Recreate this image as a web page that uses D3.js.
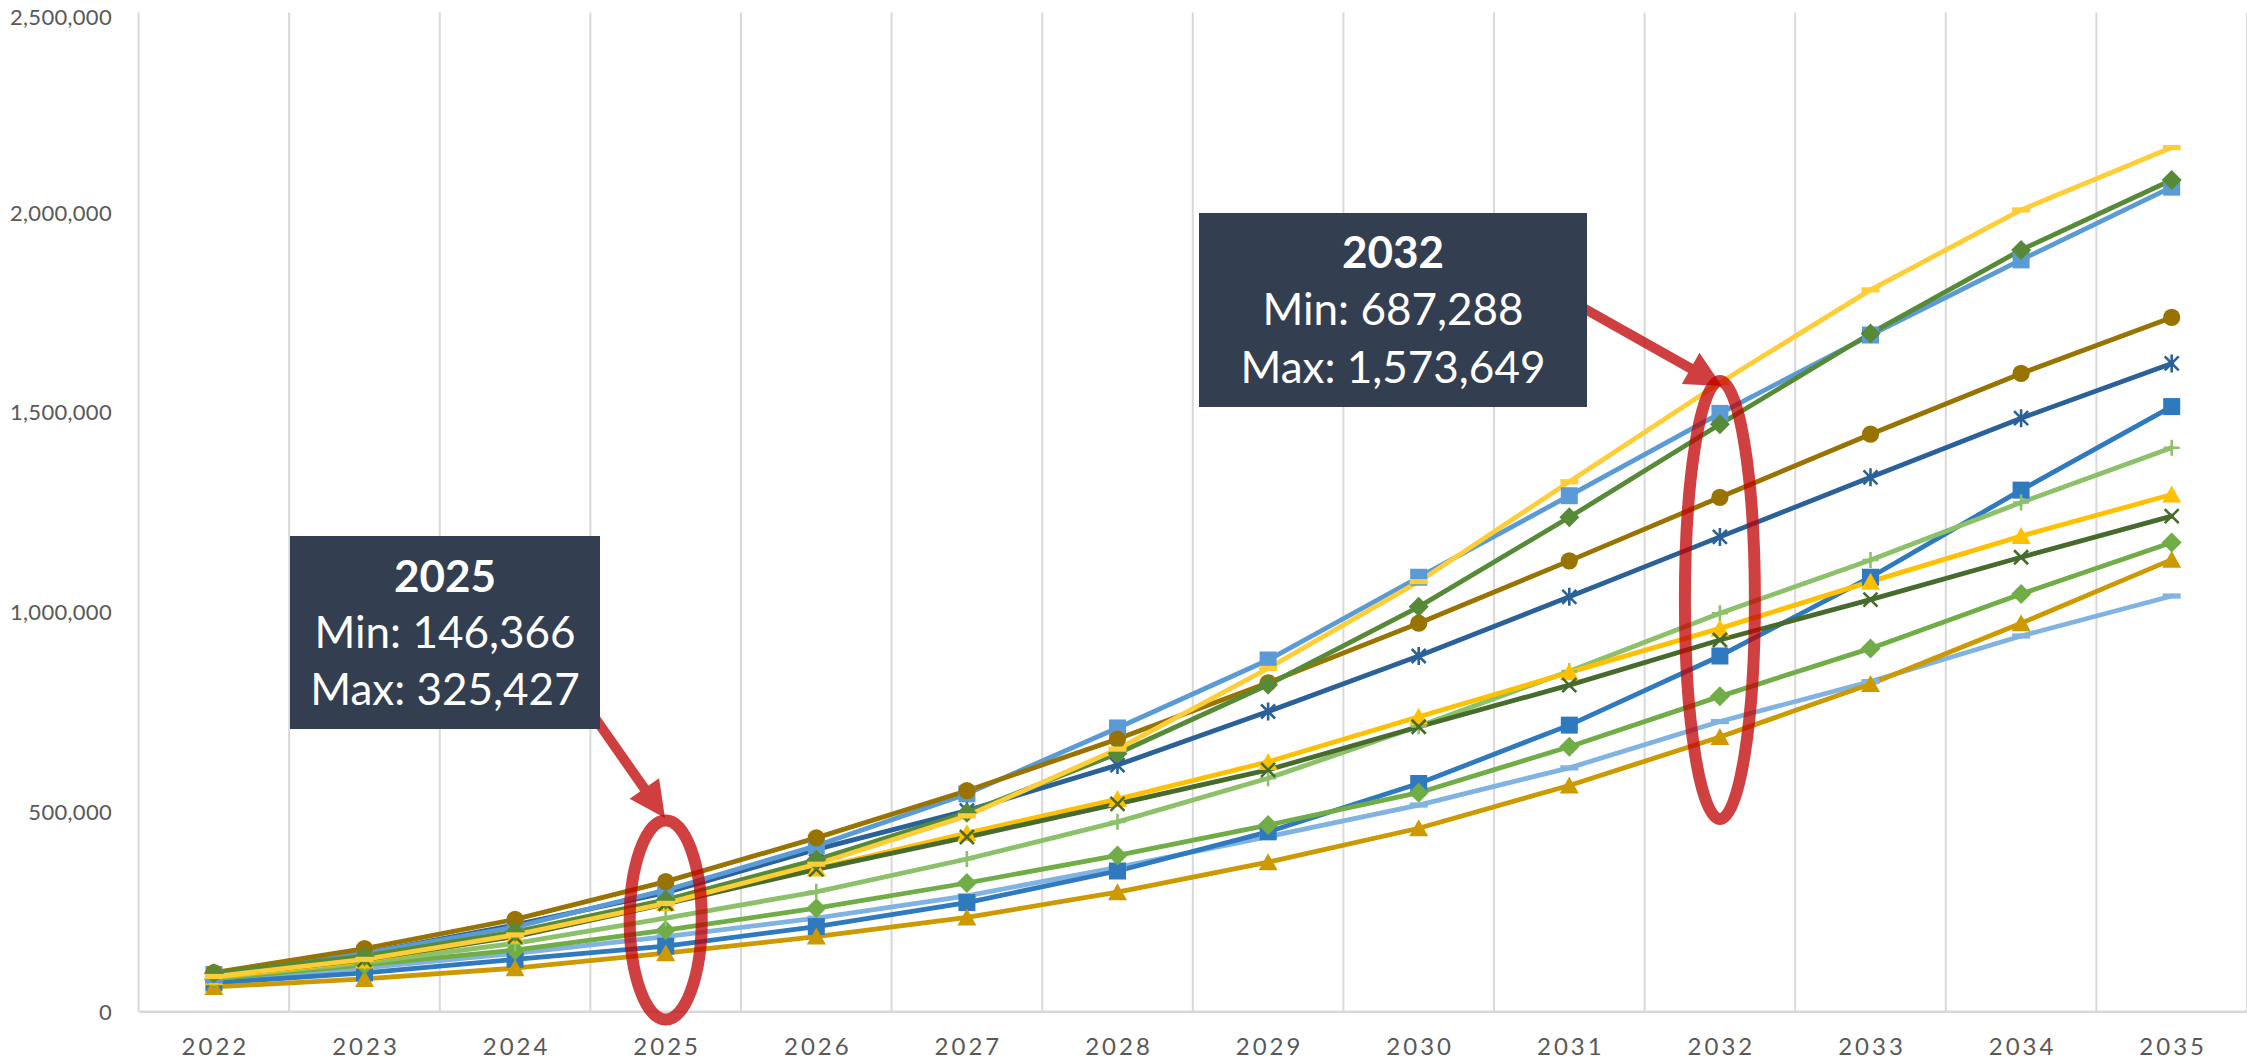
<!DOCTYPE html>
<html>
<head>
<meta charset="utf-8">
<script src="https://cdn.jsdelivr.net/npm/d3@7"></script>
<style>
  html, body { margin: 0; padding: 0; background: #ffffff; }
  svg { display: block; }
  text { font-family: Lato, "Open Sans", "Liberation Sans", sans-serif; }
</style>
</head>
<body>
<svg id="chart" width="2247" height="1063"></svg>
<script>
// ---------------- DATA ----------------
const years = ["2022","2023","2024","2025","2026","2027","2028","2029","2030","2031","2032","2033","2034","2035"];
const yTickValues = [0, 500000, 1000000, 1500000, 2000000, 2500000];

const lightBlueDash   = [78000, 110000, 146000, 188000, 234000, 290000, 361000, 438000, 517000, 610000, 726000, 826000, 940000, 1040000];
const blueSquare      = [72000, 97000, 131000, 164000, 213000, 273000, 352000, 450000, 571000, 717000, 890000, 1087000, 1305000, 1514000];
const goldTriangle    = [62000, 82000, 109000, 146366, 188000, 236000, 299000, 374000, 459000, 566000, 687288, 820000, 972000, 1131000];
const greenDiamond    = [82000, 117000, 154000, 204000, 259000, 322000, 391000, 467000, 548000, 663000, 789000, 909000, 1045000, 1174000];
const lightGreenPlus  = [85000, 123000, 171000, 234000, 300000, 382000, 475000, 584000, 714000, 852000, 997000, 1130000, 1274000, 1411000];
const yellowTriangle  = [86000, 128000, 190000, 272000, 358000, 447000, 532000, 625000, 738000, 849000, 959000, 1076000, 1190000, 1294000];
const darkGreenX      = [90000, 130000, 188000, 270000, 356000, 437000, 520000, 605000, 713000, 817000, 930000, 1031000, 1137000, 1240000];
const darkBlueStar    = [95000, 146000, 217000, 298000, 406000, 503000, 617000, 751000, 890000, 1038000, 1188000, 1337000, 1485000, 1622000];
const lightBlueSquare = [93000, 146000, 212000, 304000, 415000, 545000, 710000, 880000, 1087000, 1291000, 1497000, 1693000, 1881000, 2063000];
const brownCircle     = [98000, 158000, 231000, 325427, 435000, 553000, 682000, 823000, 972000, 1128000, 1287000, 1445000, 1597000, 1737000];
const darkGreenDiam   = [96000, 139000, 200000, 280000, 380000, 498000, 646000, 818000, 1013000, 1237000, 1470000, 1697000, 1906000, 2081000];
const yellowDash      = [88000, 131000, 192000, 271000, 369000, 490000, 657000, 859000, 1076000, 1326000, 1573649, 1806000, 2006000, 2162000];

const annYears = ["2025", "2032"];
const annMin   = [146366, 687288];
const annMax   = [325427, 1573649];

// ---------------- STYLE ----------------
const seriesList = [
  { values: lightBlueDash,   color: "#80B3E1", marker: "dash" },
  { values: blueSquare,      color: "#2F79BF", marker: "square" },
  { values: goldTriangle,    color: "#CC9A00", marker: "triangle" },
  { values: greenDiamond,    color: "#70AD47", marker: "diamond" },
  { values: lightGreenPlus,  color: "#8CC16A", marker: "plus" },
  { values: yellowTriangle,  color: "#FFC000", marker: "triangle" },
  { values: darkGreenX,      color: "#466B2D", marker: "times" },
  { values: darkBlueStar,    color: "#2A6198", marker: "asterisk" },
  { values: lightBlueSquare, color: "#5B9BD5", marker: "square" },
  { values: brownCircle,     color: "#997300", marker: "circle" },
  { values: darkGreenDiam,   color: "#578A37", marker: "diamond" },
  { values: yellowDash,      color: "#FFCD35", marker: "dash" }
];

const plot = { left: 138.6, right: 2247, top: 12.5, bottom: 1011.7 };
const gridColor = "#D9D9D9";
const labelColor = "#595959";
const annFill = "#333F50";
const redColor = "#C00000";

const svg = d3.select("#chart");

const x = d3.scaleBand().domain(years).range([plot.left, plot.right]).paddingInner(0).paddingOuter(0);
const bw = x.bandwidth();
const cx = d => x(d) + bw / 2;
const y = d3.scaleLinear().domain([0, 2500000]).range([plot.bottom, plot.top]);

// Vertical gridlines (category boundaries)
const bounds = years.map(d => x(d)).concat([x(years[years.length - 1]) + bw]);
svg.append("g").selectAll("line").data(bounds).join("line")
  .attr("x1", d => d).attr("x2", d => d)
  .attr("y1", plot.top).attr("y2", plot.bottom)
  .attr("stroke", gridColor).attr("stroke-width", 2);

// X axis baseline
svg.append("line")
  .attr("x1", plot.left).attr("x2", plot.right)
  .attr("y1", plot.bottom).attr("y2", plot.bottom)
  .attr("stroke", gridColor).attr("stroke-width", 2.5);

// Y axis labels
const yAxis = svg.append("g").attr("transform", "translate(112,0)")
  .call(d3.axisLeft(y).tickValues(yTickValues).tickFormat(d3.format(",")).tickSize(0).tickPadding(0));
yAxis.select(".domain").remove();
yAxis.selectAll("text")
  .attr("fill", labelColor).style("font-size", "22px").style("letter-spacing", "0.3px")
  .style("font-family", "Lato, 'Open Sans', sans-serif").attr("dy", "0.35em");
yAxis.selectAll(".tick").filter(d => d === 2500000).select("text").attr("dy", "0.55em");

// X axis labels
const xAxis = svg.append("g").attr("transform", `translate(0,${plot.bottom})`)
  .call(d3.axisBottom(x).tickSize(0).tickPadding(0));
xAxis.select(".domain").remove();
xAxis.selectAll("text")
  .attr("fill", labelColor).style("font-size", "24px").style("letter-spacing", "3px")
  .style("font-family", "Lato, 'Open Sans', sans-serif")
  .attr("y", 35).attr("dy", "0.35em").attr("dx", "1.5px");

// Lines
const lineGen = d3.line().x((d, i) => cx(years[i])).y(d => y(d));
const linesG = svg.append("g");
seriesList.forEach(s => {
  linesG.append("path").datum(s.values)
    .attr("d", lineGen)
    .attr("fill", "none").attr("stroke", s.color)
    .attr("stroke-width", 4.8).attr("stroke-linejoin", "round").attr("stroke-linecap", "round");
});

// Markers
function markerPath(type) {
  switch (type) {
    case "circle": return d3.symbol(d3.symbolCircle, Math.PI * 8.6 * 8.6)();
    case "square": return "M-8.5,-8.5H8.5V8.5H-8.5Z";
    case "diamond": return "M0,-10L10,0L0,10L-10,0Z";
    case "triangle": return "M0,-9L9.5,8L-9.5,8Z";
    case "dash": return "M-9,-2.6H9V2.6H-9Z";
    case "times": return "M-7,-7L7,7M-7,7L7,-7";
    case "asterisk": return "M-7,-7L7,7M-7,7L7,-7M0,-9V9";
    case "plus": return "M-8,0H8M0,-8V8";
  }
}
const strokeMarkers = new Set(["times", "asterisk", "plus"]);
const markersG = svg.append("g");
seriesList.forEach(s => {
  const g = markersG.append("g");
  const isStroke = strokeMarkers.has(s.marker);
  g.selectAll("path").data(s.values).join("path")
    .attr("transform", (d, i) => `translate(${cx(years[i])},${y(d)})`)
    .attr("d", markerPath(s.marker))
    .attr("fill", isStroke ? "none" : s.color)
    .attr("stroke", isStroke ? s.color : "none")
    .attr("stroke-width", isStroke ? 2.6 : 0);
});

// Annotations: arrows (drawn under boxes), ellipses, boxes
const fmt = d3.format(",");
const annLayout = [
  { box: [290, 536, 310, 193], baselines: [591.7, 648, 705], ell: [920, 36, 99.5],
    arrow: [[588, 708], [665, 818]] },
  { box: [1199, 213, 388, 194], baselines: [268, 325, 382.7], ell: [600, 35, 219],
    arrow: [[1578, 305], [1722, 386]] }
];

annYears.forEach((yr, k) => {
  const L = annLayout[k];
  const [p0, p1] = L.arrow;
  const dx = p1[0] - p0[0], dy = p1[1] - p0[1];
  const len = Math.hypot(dx, dy);
  const ux = dx / len, uy = dy / len;
  const headLen = 36, headHalf = 18;
  const bx = p1[0] - ux * headLen, by = p1[1] - uy * headLen;
  const ag = svg.append("g").attr("opacity", 0.75);
  ag.append("line").attr("x1", p0[0]).attr("y1", p0[1]).attr("x2", bx + ux * 2).attr("y2", by + uy * 2)
    .attr("stroke", redColor).attr("stroke-width", 10);
  ag.append("path")
    .attr("d", `M${p1[0]},${p1[1]}L${bx - uy * headHalf},${by + ux * headHalf}L${bx + uy * headHalf},${by - ux * headHalf}Z`)
    .attr("fill", redColor);
  svg.append("ellipse")
    .attr("cx", cx(yr)).attr("cy", L.ell[0]).attr("rx", L.ell[1]).attr("ry", L.ell[2])
    .attr("fill", "none").attr("stroke", redColor).attr("stroke-width", 12).attr("stroke-opacity", 0.75);
  const [bx0, by0, bwid, bht] = L.box;
  svg.append("rect").attr("x", bx0).attr("y", by0).attr("width", bwid).attr("height", bht).attr("fill", annFill);
  const tcx = bx0 + bwid / 2;
  const lines = [yr, "Min: " + fmt(annMin[k]), "Max: " + fmt(annMax[k])];
  lines.forEach((t, j) => {
    svg.append("text").attr("x", tcx).attr("y", L.baselines[j])
      .attr("text-anchor", "middle").attr("fill", "#ffffff")
      .style("font-size", "44px")
      .style("font-weight", j === 0 ? "700" : "400")
      .text(t);
  });
});
</script>
</body>
</html>
